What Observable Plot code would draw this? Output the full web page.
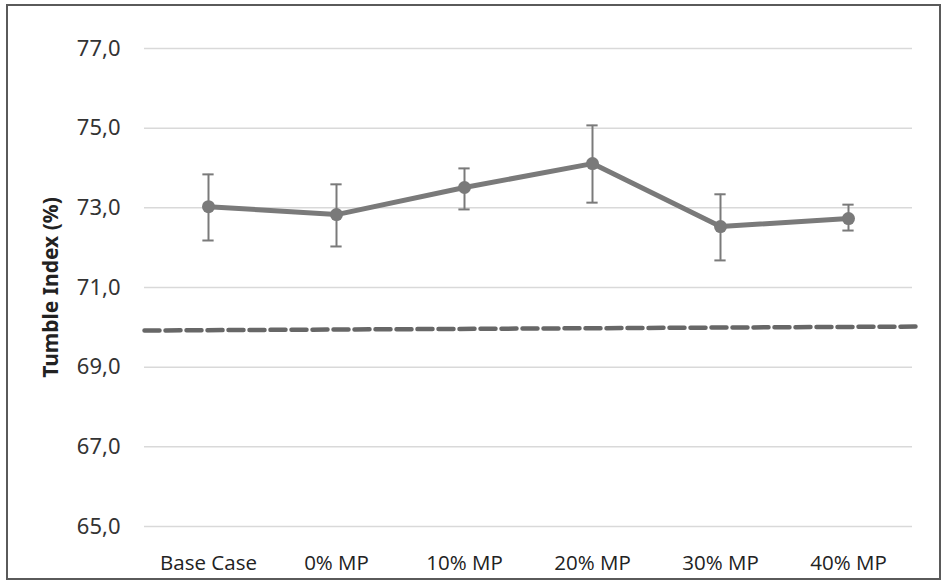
<!DOCTYPE html>
<html>
<head>
<meta charset="utf-8">
<script src="https://cdn.jsdelivr.net/npm/d3@7"></script>
<script src="https://cdn.jsdelivr.net/npm/@observablehq/plot@0.6"></script>
<style>
  html, body { margin: 0; padding: 0; background: #fff; }
  #wrap { position: relative; width: 943px; height: 580px; }
  #frame { position: absolute; left: 6px; top: 4px; width: 931px; height: 572px; border: 2px solid #5a5a5a; pointer-events: none; }
  g[aria-label="y-labels"] text { letter-spacing: 1.2px; }
  g[aria-label="x-labels"] text { letter-spacing: 0.9px; }
  g[aria-label="y-title"] text { letter-spacing: 1.1px; }
</style>
</head>
<body>
<div id="wrap"><div id="frame"></div></div>
<script>
// Tumble index per case, with the spread shown as error bars
const categories = ["Base Case", "0% MP", "10% MP", "20% MP", "30% MP", "40% MP"];
const tumble = [73.03, 72.83, 73.51, 74.11, 72.53, 72.73];
const tumbleLow = [72.18, 72.03, 72.96, 73.13, 71.68, 72.43];
const tumbleHigh = [73.84, 73.59, 73.99, 75.07, 73.34, 73.08];
const yTicks = [65, 67, 69, 71, 73, 75, 77];

// Reference level (dashed), from the first to the last case
const refPos = [-0.5, 5.55];
const refLevel = [69.92, 70.02];

const rows = categories.map((c, i) => ({
  i, c, v: tumble[i], lo: tumbleLow[i], hi: tumbleHigh[i]
}));
const ref = refPos.map((x, k) => ({x, y: refLevel[k]}));

const fmt = d => d.toFixed(1).replace(".", ",");
const capHalf = 0.044;
const grey = "#7a7a7a";

const chart = Plot.plot({
  width: 943,
  height: 580,
  marginLeft: 144,
  marginRight: 31,
  marginTop: 48,
  marginBottom: 54,
  style: {fontFamily: "'Noto Sans', sans-serif", color: "#333", background: "transparent"},
  x: {type: "linear", domain: [-0.5, 5.5], axis: null},
  y: {domain: [65, 77], axis: null},
  marks: [
    Plot.ruleY(yTicks, {stroke: "#d9d9d9", strokeWidth: 1.5}),
    // y tick labels
    Plot.text(yTicks, {
      x: -0.5, y: d => d, text: fmt, textAnchor: "end", dx: -24,
      fontSize: 22, fill: "#333", ariaLabel: "y-labels"
    }),
    // x tick labels
    Plot.text(rows, {
      x: "i", y: 65, text: "c", dy: 37, fontSize: 20.5, fill: "#222",
      fontFamily: "'Open Sans', sans-serif", ariaLabel: "x-labels"
    }),
    // axis title
    Plot.text(["Tumble Index (%)"], {
      x: -0.5, y: 71, text: d => d, rotate: -90, dx: -93,
      fontSize: 21, fontWeight: "bold", fill: "#222", ariaLabel: "y-title"
    }),
    // dashed reference level and its soft shadow
    Plot.line(ref, {
      x: "x", y: "y", stroke: "#000", strokeOpacity: 0.35, strokeWidth: 4.5,
      strokeDasharray: "15,6", dy: 4, ariaLabel: "ref-shadow"
    }),
    Plot.line(ref, {
      x: "x", y: "y", stroke: "#676767", strokeWidth: 4.5, strokeDasharray: "15,6"
    }),
    // error bars
    Plot.ruleX(rows, {x: "i", y1: "lo", y2: "hi", stroke: grey, strokeWidth: 2}),
    Plot.ruleY(rows, {x1: d => d.i - capHalf, x2: d => d.i + capHalf, y: "lo", stroke: grey, strokeWidth: 2}),
    Plot.ruleY(rows, {x1: d => d.i - capHalf, x2: d => d.i + capHalf, y: "hi", stroke: grey, strokeWidth: 2}),
    // series line and markers
    Plot.line(rows, {x: "i", y: "v", stroke: grey, strokeWidth: 5}),
    Plot.dot(rows, {x: "i", y: "v", r: 6.5, fill: grey})
  ]
});

// blur the shadow under the dashed line
const ns = "http://www.w3.org/2000/svg";
const defs = document.createElementNS(ns, "defs");
const filter = document.createElementNS(ns, "filter");
filter.setAttribute("id", "soft");
filter.setAttribute("x", "-5%"); filter.setAttribute("y", "-200%");
filter.setAttribute("width", "110%"); filter.setAttribute("height", "500%");
const blur = document.createElementNS(ns, "feGaussianBlur");
blur.setAttribute("stdDeviation", "2");
filter.appendChild(blur);
defs.appendChild(filter);
chart.insertBefore(defs, chart.firstChild);
const sh = chart.querySelector('[aria-label="ref-shadow"]');
if (sh) sh.setAttribute("filter", "url(#soft)");

document.getElementById("wrap").insertBefore(chart, document.getElementById("frame"));
</script>
</body>
</html>
